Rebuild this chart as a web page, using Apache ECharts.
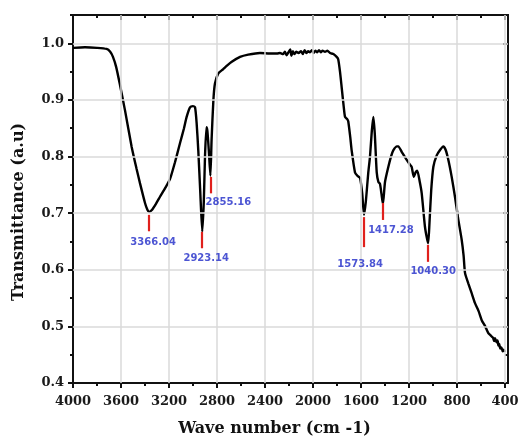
<!DOCTYPE html>
<html>
<head>
<meta charset="utf-8">
<script src="https://cdn.jsdelivr.net/npm/echarts@6/dist/echarts.min.js"></script>
<style>html,body{margin:0;padding:0;background:#fff;}#c{width:519px;height:443px;}</style>
</head>
<body>
<div id="c"></div>
<script>
// ---- data ----
const waveNumbers = [4000,3900,3800,3720,3690,3667,3640,3608,3567,3511,3470,3442,3400,3380,3366,3345,3310,3275,3230,3192,3150,3108,3075,3053,3025,3000,2983,2970,2956,2940,2923,2910,2900,2888,2880,2868,2855,2845,2830,2817,2789,2750,2719,2680,2608,2540,2442,2360,
  2300,2275,2250,2235,2220,2205,2190,2180,2168,2155,2140,2120,2100,2085,2070,2055,2040,2025,2010,1995,1980,1965,1950,1935,1920,1900,1880,1858,
  1830,1803,1790,1775,1760,1745,1733,1715,1706,1690,1678,1650,1630,1608,1590,1575,1560,1540,1525,1510,1497,1485,1469,1455,1442,1430,1417,1400,1372,1350,1331,1300,1289,1260,1219,1190,1178,1160,1145,1131,1110,1094,1067,1050,1040,1030,1015,997,969,940,914,895,872,845,817,790,761,745,733,706,680,650,620,594,565,539,
  520,500,490,483,470,462,455,448,440,430,420,410,400];
const transmittance = [0.992,0.993,0.992,0.990,0.985,0.976,0.958,0.926,0.882,0.817,0.778,0.753,0.718,0.706,0.702,0.705,0.716,0.729,0.745,0.760,0.790,0.824,0.850,0.870,0.887,0.889,0.887,0.860,0.811,0.740,0.667,0.720,0.800,0.852,0.845,0.810,0.766,0.830,0.900,0.929,0.947,0.954,0.960,0.967,0.976,0.980,0.983,0.982,
  0.982,0.983,0.981,0.985,0.979,0.984,0.989,0.978,0.986,0.981,0.985,0.983,0.986,0.981,0.988,0.983,0.986,0.984,0.988,0.983,0.987,0.984,0.988,0.984,0.987,0.985,0.987,0.983,
  0.981,0.976,0.972,0.950,0.920,0.890,0.870,0.866,0.862,0.835,0.811,0.772,0.766,0.762,0.735,0.697,0.720,0.770,0.800,0.845,0.870,0.840,0.772,0.755,0.752,0.735,0.716,0.755,0.782,0.800,0.811,0.818,0.818,0.808,0.794,0.785,0.782,0.764,0.772,0.775,0.755,0.735,0.676,0.655,0.647,0.680,0.740,0.782,0.802,0.812,0.818,0.812,0.794,0.765,0.729,0.690,0.653,0.625,0.594,0.576,0.560,0.541,0.527,0.511,0.500,0.488,
  0.484,0.480,0.474,0.479,0.472,0.475,0.466,0.469,0.461,0.463,0.456,0.459,0.455];

const peakLabels = ['3366.04','2923.14','2855.16','1573.84','1417.28','1040.30'];
const peakWn = [3366.04, 2923.14, 2855.16, 1573.84, 1417.28, 1040.30];
const peakMarkTop = [0.697, 0.667, 0.764, 0.693, 0.718, 0.644];
const peakMarkBottom = [0.668, 0.638, 0.735, 0.640, 0.688, 0.614];

const xMajorTicks = [4000,3600,3200,2800,2400,2000,1600,1200,800,400];
const xMinorTicks = [3800,3400,3000,2600,2200,1800,1400,1000,600];
const yMajorTicks = [0.4,0.5,0.6,0.7,0.8,0.9,1.0];
const yMinorTicks = [0.45,0.55,0.65,0.75,0.85,0.95,1.05];

// ---- layout / style ----
const X_MIN = 375, X_MAX = 4000, Y_MIN = 0.4, Y_MAX = 1.05;
const labelShift = [[4,11],[4,10],[18,9],[-4,17],[8,10],[5,10]];
const serif = 'DejaVu Serif';
const axisLineStyle = {color:'#111', width:2};

function xAxisDef(pos, ticks, len, inside, withLabels) {
  return {
    type:'value', position:pos, min:X_MIN, max:X_MAX, inverse:true,
    axisLine:{show:true, onZero:false, lineStyle:axisLineStyle},
    axisTick:{show:true, customValues:ticks, length:len, inside:inside, lineStyle:{color:'#111', width:2}},
    axisLabel: withLabels ? {show:true, customValues:ticks, margin:12, color:'#1a1a1a',
      fontFamily:serif, fontWeight:'bold', fontSize:13, formatter:v=>String(v)} : {show:false},
    splitLine:{show:false}
  };
}
function yAxisDef(pos, ticks, len, inside, withLabels) {
  return {
    type:'value', position:pos, min:Y_MIN, max:Y_MAX,
    axisLine:{show:true, onZero:false, lineStyle:axisLineStyle},
    axisTick:{show:true, customValues:ticks, length:len, inside:inside, lineStyle:{color:'#111', width:2}},
    axisLabel: withLabels ? {show:true, customValues:ticks, margin:9, color:'#1a1a1a',
      fontFamily:serif, fontWeight:'bold', fontSize:13, formatter:v=>Number(v).toFixed(1)} : {show:false},
    splitLine:{show:false}
  };
}

const xa0 = xAxisDef('bottom', xMajorTicks, 5, false, true);
xa0.name = 'Wave number (cm -1)';
xa0.nameLocation = 'middle';
xa0.nameGap = 38;
xa0.nameTextStyle = {fontFamily:serif, fontWeight:'bold', fontSize:16, color:'#111', padding:[0,32,0,0]};
const ya0 = yAxisDef('left', yMajorTicks, 5, false, true);
ya0.name = 'Transmittance (a.u)';
ya0.nameLocation = 'middle';
ya0.nameGap = 46;
ya0.nameTextStyle = {fontFamily:serif, fontWeight:'bold', fontSize:16, color:'#111', padding:[0,26,0,0]};

const spectrum = waveNumbers.map((w,i)=>[w, transmittance[i]]);

const gridLines = xMajorTicks.filter(v=>v!==4000).map(v=>({xAxis:v}))
  .concat(yMajorTicks.filter(v=>v!==0.4).map(v=>({yAxis:v})));

const chart = echarts.init(document.getElementById('c'), null, {renderer:'canvas'});
chart.setOption({
  animation:false,
  backgroundColor:'#fff',
  grid:{left:73, right:11, top:15, bottom:60, containLabel:false, outerBoundsMode:'none'},
  xAxis:[xa0, xAxisDef('bottom', xMinorTicks, 3, false, false),
         xAxisDef('top', xMajorTicks, 5, true, false), xAxisDef('top', xMinorTicks, 3, true, false)],
  yAxis:[ya0, yAxisDef('left', yMinorTicks, 3, false, false),
         yAxisDef('right', yMajorTicks, 5, true, false), yAxisDef('right', yMinorTicks, 3, true, false)],
  series:[
    {type:'line', data:[], z:1, silent:true,
     markLine:{silent:true, symbol:'none', label:{show:false},
       lineStyle:{color:'#dadada', width:1.5, type:'solid'}, data:gridLines}},
    {type:'line', data:spectrum, z:3, showSymbol:false, symbol:'none', smooth:0.2,
     lineStyle:{color:'#000', width:2.4}},
    {type:'line', data:[], z:4, silent:true,
     markLine:{silent:true, symbol:'none', label:{show:false}, lineStyle:{color:'#e0201c', width:2.2, type:'solid'},
       data: peakWn.map((w,i)=>[{coord:[w, peakMarkTop[i]]},{coord:[w, peakMarkBottom[i]]}])}},
    {type:'scatter', z:5, symbolSize:0, silent:true,
     data: peakWn.map((w,i)=>({value:[w, peakMarkBottom[i]], name:peakLabels[i],
       label:{offset:labelShift[i]}})),
     label:{show:true, position:'inside', formatter:p=>p.name, color:'#1f2bc8',
       fontFamily:'DejaVu Sans', fontWeight:'bold', fontSize:10, align:'center', verticalAlign:'middle'}}
  ]
});
</script>
</body>
</html>
